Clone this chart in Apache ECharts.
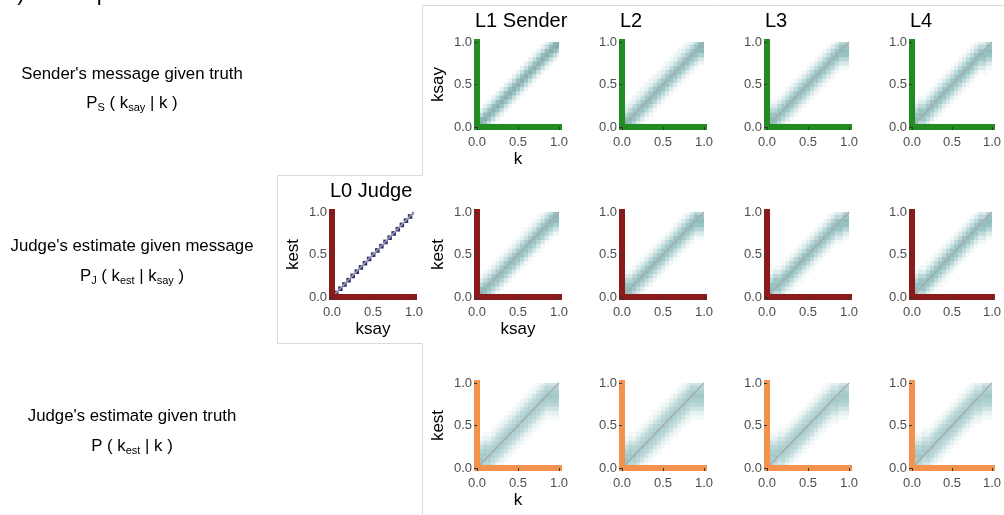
<!DOCTYPE html>
<html>
<head>
<meta charset="utf-8">
<script src="https://cdn.jsdelivr.net/npm/echarts@6/dist/echarts.min.js"></script>
<style>
  html, body { margin: 0; padding: 0; background: #ffffff; }
  #chart { width: 1004px; height: 515px; }
</style>
</head>
<body>
<div id="chart"></div>
<script>
// Grid of k values (both axes) and axis ticks
const kGrid = [0, 0.05, 0.1, 0.15, 0.2, 0.25, 0.3, 0.35, 0.4, 0.45, 0.5,
               0.55, 0.6, 0.65, 0.7, 0.75, 0.8, 0.85, 0.9, 0.95, 1];
const tickValues = [0, 0.5, 1];
const tickLabels = ['0.0', '0.5', '1.0'];

const levelTitles = ['L1 Sender', 'L2', 'L3', 'L4'];
const judgeTitle = 'L0 Judge';

// Row captions
const rowCaptions = [
  ["Sender's message given truth", 'P{sub|S} ( k{sub|say} | k )'],
  ["Judge's estimate given message", 'P{sub|J} ( k{sub|est} | k{sub|say} )'],
  ["Judge's estimate given truth", 'P ( k{sub|est} | k )']
];

// Band of each conditional distribution: for every column (k index) the row index
// where the band is centred, plus the weights at offsets around that centre.
const senderL1Centers = [0, 1, 2, 3, 4, 5, 6, 7, 8, 9, 10, 11, 12, 13, 14, 15, 16, 17, 18, 19, 20];
const senderL1Profile = [0.03, 0.10, 0.20, 0.30, 0.22, 0.11, 0.04];
const senderL2Centers = [1, 1, 2, 3, 4, 5, 6, 7, 8, 9, 10, 11, 12, 13, 14, 15, 16, 17, 18, 19, 19];
const senderL2Profile = [0.02, 0.06, 0.13, 0.20, 0.22, 0.18, 0.11, 0.05, 0.03];
const senderL3Centers = [2, 2, 2, 3, 4, 5, 6, 7, 8, 9, 10, 11, 12, 13, 14, 15, 16, 17, 18, 18, 18];
const senderL3Profile = [0.02, 0.06, 0.12, 0.19, 0.22, 0.19, 0.12, 0.06, 0.02];
const senderL4Centers = [2, 2, 3, 3, 4, 5, 6, 7, 8, 9, 10, 11, 12, 13, 14, 15, 16, 17, 17, 18, 18];
const senderL4Profile = [0.02, 0.06, 0.12, 0.19, 0.22, 0.19, 0.12, 0.06, 0.02];

const judgeL0Centers = [0, 1, 2, 3, 4, 5, 6, 7, 8, 9, 10, 11, 12, 13, 14, 15, 16, 17, 18, 19, 20];
const judgeL0Profile = [1];
const judgeL1Centers = [1, 1, 2, 3, 4, 5, 6, 7, 8, 9, 10, 11, 12, 13, 14, 15, 16, 17, 18, 19, 19];
const judgeL1Profile = [0.02, 0.07, 0.14, 0.20, 0.22, 0.18, 0.10, 0.05, 0.02];
const judgeL2Centers = [2, 2, 2, 3, 4, 5, 6, 7, 8, 9, 10, 11, 12, 13, 14, 15, 16, 17, 18, 18, 18];
const judgeL2Profile = [0.02, 0.06, 0.12, 0.19, 0.22, 0.19, 0.12, 0.06, 0.02];
const judgeL3Centers = [2, 2, 3, 3, 4, 5, 6, 7, 8, 9, 10, 11, 12, 13, 14, 15, 16, 17, 17, 18, 18];
const judgeL3Profile = [0.02, 0.06, 0.12, 0.19, 0.22, 0.19, 0.12, 0.06, 0.02];
const judgeL4Centers = [2, 2, 3, 3, 4, 5, 6, 7, 8, 9, 10, 11, 12, 13, 14, 15, 16, 17, 17, 18, 18];
const judgeL4Profile = [0.02, 0.06, 0.12, 0.19, 0.22, 0.19, 0.12, 0.06, 0.02];

const truthL1Centers = [2, 2, 3, 3, 4, 5, 6, 7, 8, 9, 10, 11, 12, 13, 14, 15, 16, 17, 17, 17, 17];
const truthL1Profile = [0.02, 0.04, 0.08, 0.12, 0.15, 0.17, 0.15, 0.12, 0.08, 0.04, 0.02];
const truthL2Centers = [2, 2, 3, 3, 4, 5, 6, 7, 8, 9, 10, 11, 12, 13, 14, 15, 16, 17, 17, 17, 17];
const truthL2Profile = [0.02, 0.04, 0.08, 0.12, 0.15, 0.17, 0.15, 0.12, 0.08, 0.04, 0.02];
const truthL3Centers = [3, 3, 3, 4, 4, 5, 6, 7, 8, 9, 10, 11, 12, 13, 14, 15, 16, 16, 17, 17, 17];
const truthL3Profile = [0.02, 0.04, 0.08, 0.12, 0.15, 0.17, 0.15, 0.12, 0.08, 0.04, 0.02];
const truthL4Centers = [3, 3, 3, 4, 4, 5, 6, 7, 8, 9, 10, 11, 12, 13, 14, 15, 16, 16, 17, 17, 17];
const truthL4Profile = [0.02, 0.04, 0.08, 0.12, 0.15, 0.17, 0.15, 0.12, 0.08, 0.04, 0.02];

// Colours
const senderColor = '#228b22';
const judgeColor = '#8b1a1a';
const truthColor = '#f2924c';
const heatColors = ['#ffffff', '#c6dede', '#9ac4c4', '#7eb2b3', '#70a6a9', '#6699a2',
                    '#5c899c', '#527a97', '#46648f', '#3a4a84', '#2f3479'];
const fontFamily = '"Liberation Sans", Arial, sans-serif';

// Turn a band description into [k, k', probability] cells; each column sums to 1.
function bandCells(centers, profile) {
  const half = (profile.length - 1) / 2;
  const cells = [];
  centers.forEach((c, col) => {
    const colCells = [];
    let total = 0;
    profile.forEach((w, i) => {
      const row = c + i - half;
      if (row >= 0 && row < kGrid.length) {
        colCells.push([kGrid[col], kGrid[row], w]);
        total += w;
      }
    });
    colCells.forEach(d => cells.push([d[0], d[1], d[2] / total]));
  });
  return cells;
}

const colLeft = [477, 622, 767, 912];
const rowTop = [42, 212, 383];
const panelW = 82, panelH = 85;

const panels = [
  { left: colLeft[0], top: rowTop[0], color: senderColor, cells: bandCells(senderL1Centers, senderL1Profile), xName: 'k', yName: 'ksay' },
  { left: colLeft[1], top: rowTop[0], color: senderColor, cells: bandCells(senderL2Centers, senderL2Profile) },
  { left: colLeft[2], top: rowTop[0], color: senderColor, cells: bandCells(senderL3Centers, senderL3Profile) },
  { left: colLeft[3], top: rowTop[0], color: senderColor, cells: bandCells(senderL4Centers, senderL4Profile) },
  { left: 332, top: rowTop[1], color: judgeColor, cells: bandCells(judgeL0Centers, judgeL0Profile), xName: 'ksay', yName: 'kest' },
  { left: colLeft[0], top: rowTop[1], color: judgeColor, cells: bandCells(judgeL1Centers, judgeL1Profile), xName: 'ksay', yName: 'kest' },
  { left: colLeft[1], top: rowTop[1], color: judgeColor, cells: bandCells(judgeL2Centers, judgeL2Profile) },
  { left: colLeft[2], top: rowTop[1], color: judgeColor, cells: bandCells(judgeL3Centers, judgeL3Profile) },
  { left: colLeft[3], top: rowTop[1], color: judgeColor, cells: bandCells(judgeL4Centers, judgeL4Profile) },
  { left: colLeft[0], top: rowTop[2], color: truthColor, cells: bandCells(truthL1Centers, truthL1Profile), xName: 'k', yName: 'kest' },
  { left: colLeft[1], top: rowTop[2], color: truthColor, cells: bandCells(truthL2Centers, truthL2Profile) },
  { left: colLeft[2], top: rowTop[2], color: truthColor, cells: bandCells(truthL3Centers, truthL3Profile) },
  { left: colLeft[3], top: rowTop[2], color: truthColor, cells: bandCells(truthL4Centers, truthL4Profile) }
];

const step = kGrid[1] - kGrid[0];
function renderCell(params, api) {
  const x = api.value(0), y = api.value(1);
  const p = api.coord([x - step / 2, y + step / 2]);
  const s = api.size([step, step]);
  return {
    type: 'rect',
    shape: { x: p[0], y: p[1], width: s[0] + 0.4, height: s[1] + 0.4 },
    style: { fill: api.visual('color') }
  };
}

const grid = [], xAxis = [], yAxis = [], series = [];
const tickFormatter = v => tickLabels[tickValues.indexOf(v)];

panels.forEach((pn, i) => {
  grid.push({ left: pn.left, top: pn.top, width: panelW, height: panelH });
  const base = { type: 'value', gridIndex: i, min: 0, max: 1, interval: 0.5, splitLine: { show: false }, z: 6 };
  // Thick coloured axis line, carrying the axis title
  xAxis.push(Object.assign({}, base, {
    position: 'bottom',
    axisLine: { show: true, lineStyle: { color: pn.color, width: 6, cap: 'square' } },
    axisTick: { show: false }, axisLabel: { show: false },
    name: pn.xName || '', nameLocation: 'middle', nameGap: 24,
    nameTextStyle: { color: '#000', fontSize: 17, fontFamily }
  }));
  // Ticks and tick labels just outside the line
  xAxis.push(Object.assign({}, base, {
    position: 'bottom', offset: 3,
    axisLine: { show: false },
    axisTick: { show: true, length: 3, lineStyle: { color: '#333', width: 1 } },
    axisLabel: { show: true, margin: 6, color: '#4d4d4d', fontSize: 13, fontFamily, formatter: tickFormatter }
  }));
  yAxis.push(Object.assign({}, base, {
    position: 'left',
    axisLine: { show: true, lineStyle: { color: pn.color, width: 6, cap: 'square' } },
    axisTick: { show: false }, axisLabel: { show: false },
    name: pn.yName || '', nameLocation: 'middle', nameGap: 30, nameRotate: 90,
    nameTextStyle: { color: '#000', fontSize: 17, fontFamily }
  }));
  yAxis.push(Object.assign({}, base, {
    position: 'left', offset: 3,
    axisLine: { show: false },
    axisTick: { show: true, length: 3, lineStyle: { color: '#333', width: 1 } },
    axisLabel: { show: true, margin: 2, color: '#4d4d4d', fontSize: 13, fontFamily, formatter: tickFormatter }
  }));
  series.push({
    type: 'custom', xAxisIndex: 2 * i, yAxisIndex: 2 * i,
    renderItem: renderCell, data: pn.cells, clip: true, z: 1,
    encode: { x: 0, y: 1 }, silent: true
  });
  series.push({
    type: 'line', xAxisIndex: 2 * i, yAxisIndex: 2 * i,
    data: [[0, 0], [1, 1]], symbol: 'none', silent: true, z: 2,
    lineStyle: { color: '#a9a9a9', width: 1.3 }
  });
});

const heatSeriesIdx = series.map((s, i) => s.type === 'custom' ? i : -1).filter(i => i >= 0);

const titleStyle = { color: '#000', fontSize: 20, fontWeight: 'normal', fontFamily };
const titles = levelTitles.map((t, i) => ({
  text: t, left: colLeft[i] - 2, top: 11, padding: 0, textStyle: titleStyle
}));
titles.push({ text: judgeTitle, left: 330, top: 181, padding: 0, textStyle: titleStyle });

// Row captions on the left, plus the frame lines
const captionY = [[74, 103], [246, 276], [416, 446]];
const graphics = [];
rowCaptions.forEach((rc, i) => {
  graphics.push({
    type: 'text', x: 132, y: captionY[i][0],
    style: { text: rc[0], fill: '#000', font: '16.8px ' + fontFamily, textAlign: 'center', textVerticalAlign: 'middle' }
  });
  graphics.push({
    type: 'text', x: 132, y: captionY[i][1],
    style: {
      text: rc[1], fill: '#000', textAlign: 'center', textVerticalAlign: 'middle',
      fontFamily, fontSize: 16.8,
      rich: {
        sub: { fontSize: 11, fontFamily, fill: '#000', padding: [9, 0, 0, 0] }
      }
    }
  });
});
graphics.push({
  type: 'text', x: 5, y: 5,
  style: { text: 'b) Model predictions', fill: '#000', font: '22px ' + fontFamily, textAlign: 'left', textVerticalAlign: 'bottom' }
});
const frameStyle = { stroke: '#d9d9d9', lineWidth: 1, fill: null };
graphics.push({ type: 'polyline', shape: { points: [[1004, 5.5], [422.5, 5.5], [422.5, 175.5], [277.5, 175.5], [277.5, 343.5], [422.5, 343.5], [422.5, 515]] }, style: frameStyle, silent: true });

const chart = echarts.init(document.getElementById('chart'), null, { renderer: 'canvas' });
chart.setOption({
  animation: false,
  backgroundColor: '#ffffff',
  title: titles,
  grid, xAxis, yAxis, series,
  visualMap: {
    show: false, type: 'continuous', min: 0, max: 1, dimension: 2,
    seriesIndex: heatSeriesIdx,
    inRange: { color: heatColors }
  },
  graphic: graphics
});
</script>
</body>
</html>
